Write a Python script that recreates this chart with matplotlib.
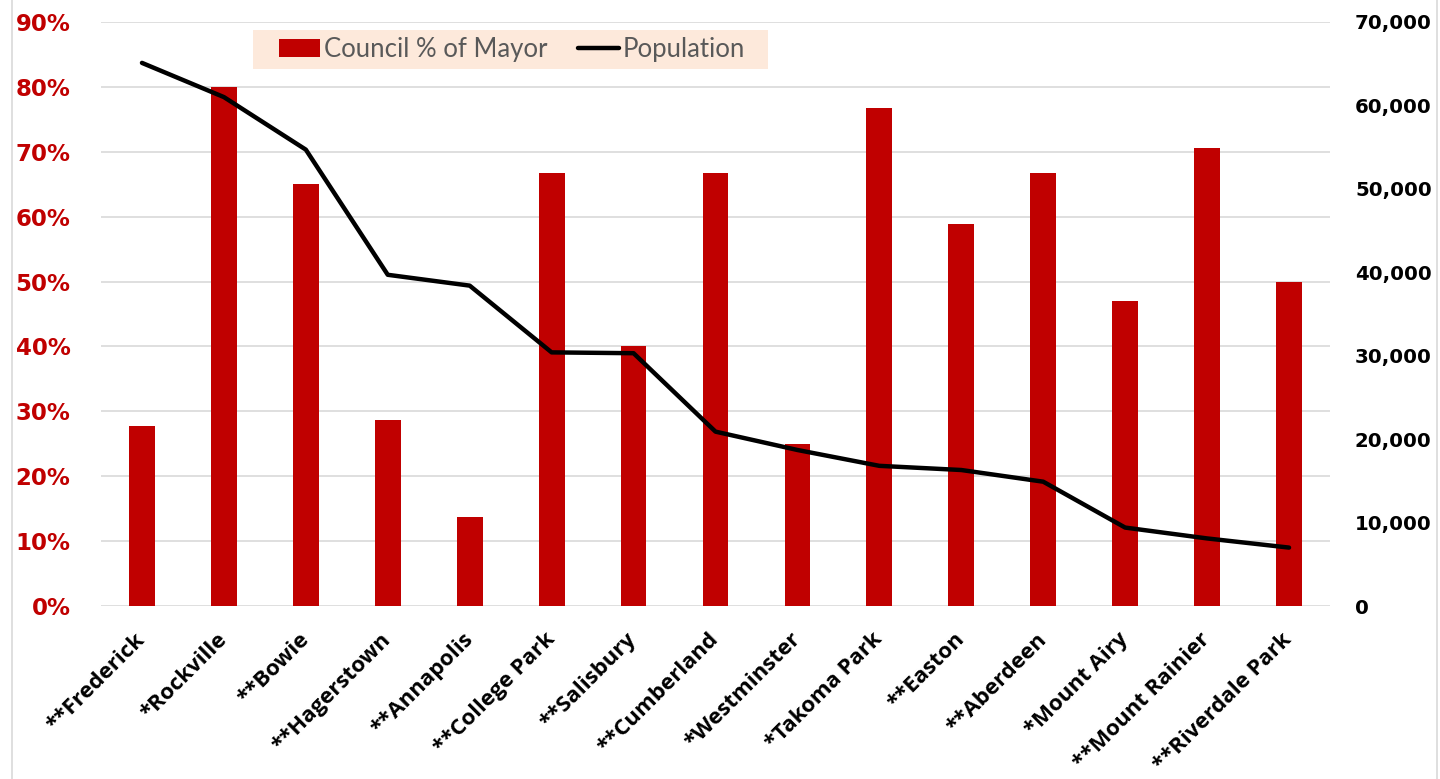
import numpy as np
import matplotlib
matplotlib.use("Agg")
import matplotlib.pyplot as plt
import matplotlib.transforms as mtransforms
from matplotlib.patches import Patch, Rectangle
from matplotlib.lines import Line2D
from matplotlib.ticker import FuncFormatter, MultipleLocator

# Cities, ordered by population (largest first).
cities = ["**Frederick", "*Rockville", "**Bowie", "**Hagerstown", "**Annapolis",
          "**College Park", "**Salisbury", "**Cumberland", "*Westminster",
          "*Takoma Park", "**Easton", "**Aberdeen", "*Mount Airy",
          "**Mount Rainier", "**Riverdale Park"]

# Council pay as a share of mayor pay (%).
council_pct = [27.7, 80.0, 65.0, 28.6, 13.7, 66.7, 40.0, 66.7, 25.0,
               76.7, 58.8, 66.7, 47.0, 70.6, 50.0]

# Population.
population = [65100, 61000, 54700, 39700, 38400, 30400, 30300, 20900,
              18700, 16800, 16300, 14900, 9400, 8100, 7000]

BAR_RED = "#C00000"
GRID = "#D9D9D9"
W, H = 1440, 779

fig = plt.figure(figsize=(W / 100, H / 100), dpi=100)
ax = fig.add_axes([101 / W, 1 - 606 / H, 1229 / W, 584 / H])
ax2 = ax.twinx()

x = np.arange(len(cities))
ax.bar(x, council_pct, width=0.315, color=BAR_RED, zorder=2)
ax2.plot(x, population, color="black", lw=3.2, solid_capstyle="round",
         solid_joinstyle="round", zorder=3)

ax.set_xlim(-0.5, len(cities) - 0.5)
ax.set_ylim(0, 90)
ax2.set_ylim(0, 70000)

ax.yaxis.set_major_locator(MultipleLocator(10))
ax.yaxis.set_major_formatter(FuncFormatter(lambda v, p: f"{v:.0f}%"))
ax2.yaxis.set_major_locator(MultipleLocator(10000))
ax2.yaxis.set_major_formatter(FuncFormatter(lambda v, p: f"{v:,.0f}"))

ax.grid(axis="y", color=GRID, lw=1.2, zorder=0)
ax.set_axisbelow(True)
for a in (ax, ax2):
    for s in a.spines.values():
        s.set_visible(False)
    a.tick_params(length=0)

ax.tick_params(axis="y", pad=22)
for lbl in ax.get_yticklabels():
    lbl.set_fontfamily("DejaVu Sans")
    lbl.set_fontweight("bold")
    lbl.set_fontsize(16.5)
    lbl.set_color(BAR_RED)

ax2.tick_params(axis="y", pad=18)
for lbl in ax2.get_yticklabels():
    lbl.set_fontfamily("DejaVu Sans")
    lbl.set_fontweight("bold")
    lbl.set_fontsize(14.2)
    lbl.set_color("black")

ax.set_xticks(x)
ax.set_xticklabels(cities, rotation=45, ha="right", va="center",
                   rotation_mode="anchor", fontfamily="Open Sans",
                   fontweight="bold", fontsize=16)
ax.tick_params(axis="x", pad=14)
shift = mtransforms.ScaledTranslation(0.0, -0.11, fig.dpi_scale_trans)
for lbl in ax.get_xticklabels():
    lbl.set_transform(lbl.get_transform() + shift)

# Legend sits on a peach panel wider than its own frame
fig.add_artist(Rectangle((253 / W, 1 - 69 / H), 515 / W, 39 / H,
                         transform=fig.transFigure, facecolor="#FDE9DB",
                         edgecolor="none", zorder=4))
handles = [Patch(facecolor=BAR_RED, edgecolor="none"),
           Line2D([], [], color="black", lw=3.2, solid_capstyle="round")]
leg = fig.legend(handles, ["Council % of Mayor", "Population"],
                 loc="center", bbox_to_anchor=(512 / W, 1 - 49.5 / H),
                 ncol=2, frameon=False,
                 prop={"family": "Lato", "size": 18.5},
                 handlelength=1.6, handleheight=0.75, handletextpad=0.15,
                 columnspacing=1.2, borderpad=0.3, borderaxespad=0)
leg.set_zorder(5)
for t in leg.get_texts():
    t.set_color("#595959")

# Chart area border
for xf in (12 / W, 1437 / W):
    fig.add_artist(Line2D([xf, xf], [0, 1], transform=fig.transFigure,
                          color=GRID, lw=1.2))

fig.savefig("out.png", dpi=100, facecolor="white")
